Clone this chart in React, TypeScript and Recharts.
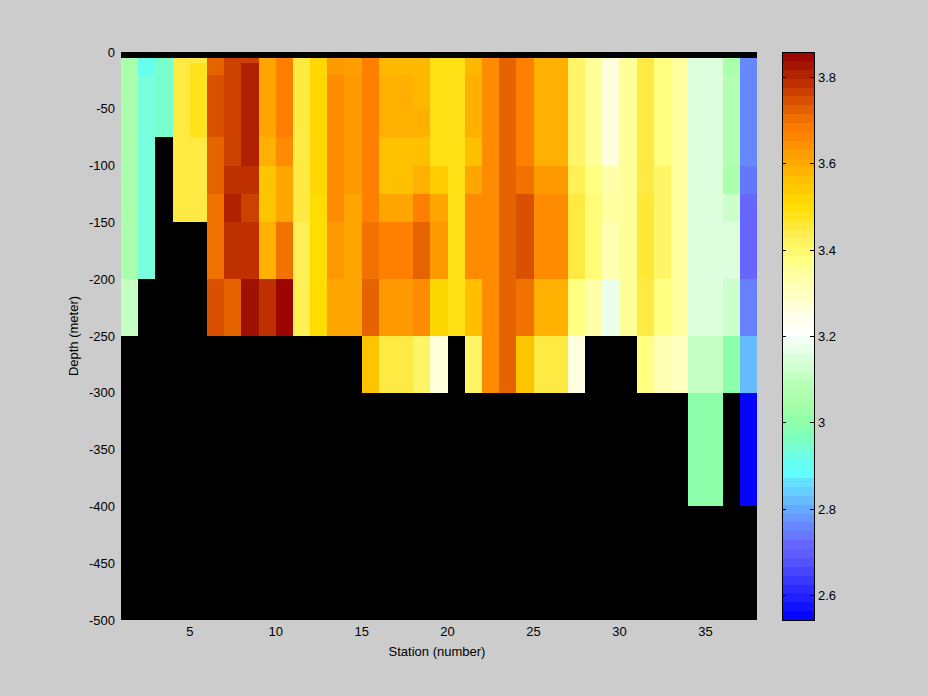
import React from 'react';
import { ComposedChart, XAxis, YAxis, ReferenceArea, Label } from 'recharts';

// Station edges (pcolor cell boundaries)
const stationEdges = [1, 2, 3, 4, 5, 6, 7, 8, 9, 10, 11, 12, 13, 14, 15, 16, 17, 18, 19, 20, 21, 22, 23, 24, 25, 26, 27, 28, 29, 30, 31, 32, 33, 34, 35, 36, 37, 38];
// Depth edges (m)
const depthEdges = [-5, -10, -20, -50, -75, -100, -125, -150, -200, -250, -300, -400, -500];

const xTicks = [5, 10, 15, 20, 25, 30, 35];
const yTicks = [0, -50, -100, -150, -200, -250, -300, -350, -400, -450, -500];
const cbTicks = [2.6, 2.8, 3, 3.2, 3.4, 3.6, 3.8];

const N = null;
// values per depth level, stations 1..37
const d5 = [3.05, 2.91, 2.95, 3.45, 3.45, 3.72, 3.765, 3.765, 3.61, 3.675, 3.45, 3.515, 3.63, 3.62, 3.675, 3.575, 3.575, 3.575, 3.49, 3.49, 3.575, 3.65, 3.72, 3.675, 3.59, 3.59, 3.41, 3.355, 3.265, 3.355, 3.45, 3.38, 3.345, 3.155, 3.155, 3.05, 2.76];
const d10 = [3.05, 2.91, 2.95, 3.45, 3.48, 3.72, 3.765, 3.81, 3.61, 3.675, 3.45, 3.515, 3.63, 3.62, 3.675, 3.575, 3.575, 3.575, 3.49, 3.49, 3.575, 3.65, 3.72, 3.675, 3.59, 3.59, 3.41, 3.355, 3.265, 3.355, 3.45, 3.38, 3.345, 3.155, 3.155, 3.05, 2.76];
const d20 = [3.05, 2.935, 2.95, 3.45, 3.48, 3.745, 3.765, 3.81, 3.61, 3.675, 3.45, 3.515, 3.65, 3.63, 3.675, 3.59, 3.59, 3.575, 3.49, 3.49, 3.59, 3.65, 3.72, 3.675, 3.59, 3.59, 3.41, 3.355, 3.265, 3.355, 3.45, 3.38, 3.345, 3.155, 3.155, 3.08, 2.76];
const d50 = [3.05, 2.935, 2.95, 3.45, 3.48, 3.745, 3.765, 3.81, 3.61, 3.675, 3.45, 3.515, 3.65, 3.63, 3.675, 3.59, 3.59, 3.59, 3.49, 3.49, 3.59, 3.65, 3.72, 3.675, 3.59, 3.59, 3.41, 3.355, 3.265, 3.355, 3.45, 3.38, 3.345, 3.155, 3.155, 3.08, 2.76];
const d75 = [3.05, 2.935, N, 3.45, 3.45, 3.72, 3.765, 3.81, 3.59, 3.65, 3.45, 3.515, 3.65, 3.63, 3.675, 3.56, 3.56, 3.56, 3.49, 3.49, 3.56, 3.65, 3.72, 3.675, 3.59, 3.59, 3.41, 3.355, 3.265, 3.355, 3.45, 3.38, 3.345, 3.155, 3.155, 3.08, 2.76];
const d100 = [3.05, 2.935, N, 3.45, 3.45, 3.72, 3.785, 3.785, 3.55, 3.61, 3.45, 3.515, 3.65, 3.63, 3.675, 3.56, 3.56, 3.59, 3.535, 3.49, 3.61, 3.65, 3.72, 3.70, 3.63, 3.63, 3.43, 3.38, 3.33, 3.355, 3.45, 3.41, 3.345, 3.155, 3.155, 3.05, 2.735];
const d125 = [3.05, 2.935, N, 3.45, 3.45, 3.70, 3.81, 3.765, 3.55, 3.61, 3.45, 3.505, 3.65, 3.61, 3.675, 3.61, 3.61, 3.675, 3.61, 3.49, 3.65, 3.65, 3.72, 3.745, 3.65, 3.65, 3.45, 3.39, 3.345, 3.355, 3.46, 3.41, 3.345, 3.155, 3.155, 3.12, 2.72];
const d150 = [3.05, 2.935, N, N, N, 3.70, 3.785, 3.785, 3.59, 3.70, 3.43, 3.505, 3.63, 3.61, 3.70, 3.675, 3.675, 3.72, 3.63, 3.49, 3.65, 3.65, 3.72, 3.745, 3.65, 3.65, 3.45, 3.39, 3.32, 3.355, 3.46, 3.41, 3.345, 3.155, 3.155, 3.155, 2.72];
const d200 = [3.11, N, N, N, N, 3.745, 3.72, 3.835, 3.785, 3.85, 3.43, 3.505, 3.61, 3.61, 3.72, 3.63, 3.63, 3.65, 3.515, 3.49, 3.56, 3.65, 3.72, 3.70, 3.59, 3.59, 3.38, 3.33, 3.175, 3.355, 3.45, 3.38, 3.345, 3.155, 3.155, 3.12, 2.75];
const d250 = [N, N, N, N, N, N, N, N, N, N, N, N, N, N, 3.55, 3.45, 3.45, 3.41, 3.27, N, 3.41, 3.65, 3.72, 3.55, 3.45, 3.45, 3.26, N, N, N, 3.38, 3.32, 3.30, 3.11, 3.11, 3.00, 2.82];
const d300 = [N, N, N, N, N, N, N, N, N, N, N, N, N, N, N, N, N, N, N, N, N, N, N, N, N, N, N, N, N, N, N, N, N, 3.00, 3.00, N, 2.55];
const d400 = [N, N, N, N, N, N, N, N, N, N, N, N, N, N, N, N, N, N, N, N, N, N, N, N, N, N, N, N, N, N, N, N, N, N, N, N, N];

const levels = [d5, d10, d20, d50, d75, d100, d125, d150, d200, d250, d300, d400];

// colour scale
const vMin = 2.543;
const vMax = 3.859;
const nColors = 64;
const cmapStops = [2.543, 2.6, 2.7, 2.72, 2.735, 2.75, 2.76, 2.8, 2.82, 2.86, 2.88, 2.91, 2.935, 2.95, 3.0, 3.05, 3.08, 3.11, 3.12, 3.155, 3.175, 3.21, 3.26, 3.27, 3.3, 3.32, 3.33, 3.345, 3.355, 3.38, 3.41, 3.43, 3.45, 3.48, 3.49, 3.505, 3.515, 3.535, 3.55, 3.56, 3.575, 3.59, 3.61, 3.62, 3.63, 3.65, 3.675, 3.7, 3.72, 3.745, 3.765, 3.785, 3.81, 3.835, 3.859];
const cmapColors = ['#0000ff', '#2222ff', '#6060ff', '#6666ff', '#6677ff', '#6680ff', '#6688ff', '#66aaff', '#66bbff', '#66ddff', '#5fffff', '#66ffee', '#77ffdd', '#77ffcc', '#8cffaa', '#aaffaa', '#b3ffb3', '#c4ffc4', '#ccffcc', '#ddffdd', '#ebffeb', '#ffffff', '#ffffe0', '#ffffd8', '#ffffc0', '#ffffb3', '#ffffaa', '#ffffa0', '#ffff99', '#ffff80', '#fff566', '#fff055', '#ffea44', '#ffe31a', '#ffe015', '#ffdd00', '#ffd700', '#ffcc00', '#ffc400', '#ffc000', '#ffb800', '#ffb000', '#ffa500', '#ffa000', '#ff9900', '#ff8c00', '#ff8000', '#f27200', '#e66400', '#d95000', '#cc4000', '#bf3000', '#b02000', '#a01000', '#990000'];

function hexToRgb(h: string) {
  return [parseInt(h.slice(1, 3), 16), parseInt(h.slice(3, 5), 16), parseInt(h.slice(5, 7), 16)];
}
function colorFor(v: number) {
  if (v <= cmapStops[0]) return cmapColors[0];
  const last = cmapStops.length - 1;
  if (v >= cmapStops[last]) return cmapColors[last];
  let i = 0;
  while (i < last && cmapStops[i + 1] < v) i++;
  const t = (v - cmapStops[i]) / (cmapStops[i + 1] - cmapStops[i]);
  const a = hexToRgb(cmapColors[i]);
  const b = hexToRgb(cmapColors[i + 1]);
  const c = a.map((x, k) => Math.round(x + (b[k] - x) * t));
  return `rgb(${c[0]},${c[1]},${c[2]})`;
}

const CellShape = (p: any) => (
  <rect x={p.x} y={p.y} width={p.width} height={p.height} fill={p.fill} stroke="none" shapeRendering="crispEdges" />
);

const font = '"Liberation Sans", Arial, Helvetica, sans-serif';
const FS = 13;
const tickStyle = { fontSize: FS, fill: '#000', fontFamily: font };

export default function App() {
  const cells: any[] = [];
  levels.forEach((row, r) => {
    row.forEach((v, c) => {
      if (v === null) return;
      cells.push(
        <ReferenceArea
          key={`c-${r}-${c}`}
          x1={stationEdges[c]}
          x2={stationEdges[c + 1]}
          y1={depthEdges[r]}
          y2={depthEdges[r + 1]}
          fill={colorFor(v as number)}
          fillOpacity={1}
          stroke="none"
          ifOverflow="visible"
          shape={CellShape}
        />
      );
    });
  });

  const step = (vMax - vMin) / nColors;
  const cbCells: any[] = [];
  for (let i = 0; i < nColors; i++) {
    const lo = vMin + i * step;
    cbCells.push(
      <ReferenceArea
        key={`cb-${i}`}
        x1={0}
        x2={1}
        y1={lo}
        y2={lo + step}
        yAxisId="r"
        fill={colorFor(lo + step / 2)}
        fillOpacity={1}
        stroke="none"
        ifOverflow="visible"
        shape={CellShape}
      />
    );
  }

  return (
    <div style={{ position: 'fixed', left: 0, top: 0, width: 928, height: 696, background: '#cccccc', overflow: 'hidden' }}>
      <div style={{ position: 'absolute', left: 0, top: 0 }}>
        <ComposedChart width={928} height={696} margin={{ top: 52, right: 171, bottom: 46, left: 71 }}>
          <XAxis
            type="number"
            dataKey="x"
            domain={[1, 38]}
            ticks={xTicks}
            interval={0}
            height={30}
            axisLine={false}
            tickLine={false}
            tickSize={5}
            tickMargin={2}
            tick={tickStyle}
            allowDataOverflow
          >
            <Label
              content={(p: any) => {
                const vb = p.viewBox || {};
                return (
                  <text x={vb.x + vb.width / 2 - 2} y={656} textAnchor="middle" fontSize={FS} fontFamily={font} fill="#000">
                    Station (number)
                  </text>
                );
              }}
            />
          </XAxis>
          <YAxis
            type="number"
            dataKey="y"
            domain={[-500, 0]}
            ticks={yTicks}
            interval={0}
            width={50}
            axisLine={false}
            tickLine={false}
            tickSize={4}
            tickMargin={2}
            tick={tickStyle}
            allowDataOverflow
          >
            <Label
              content={(p: any) => {
                const vb = p.viewBox || {};
                const cx = 73;
                const cy = vb.y + vb.height / 2;
                return (
                  <text
                    x={cx}
                    y={cy}
                    transform={`rotate(-90 ${cx} ${cy})`}
                    textAnchor="middle"
                    dominantBaseline="central"
                    fontSize={FS}
                    fontFamily={font}
                    fill="#000"
                  >
                    Depth (meter)
                  </text>
                );
              }}
            />
          </YAxis>
          <ReferenceArea x1={1} x2={38} y1={-500} y2={0} fill="#000" fillOpacity={1} stroke="none" ifOverflow="visible" shape={CellShape} />
          {cells}
        </ComposedChart>
      </div>
      <div style={{ position: 'absolute', left: 770, top: 0 }}>
        <ComposedChart width={100} height={696} margin={{ top: 52, right: 16, bottom: 76, left: 12 }}>
          <XAxis type="number" dataKey="x" domain={[0, 1]} hide allowDataOverflow />
          <YAxis
            yAxisId="r"
            orientation="right"
            type="number"
            dataKey="v"
            domain={[vMin, vMax]}
            ticks={cbTicks}
            interval={0}
            width={40}
            axisLine={false}
            tickLine={false}
            tickSize={0}
            tickMargin={4}
            tick={tickStyle}
            allowDataOverflow
          />
          {cbCells}
          {cbTicks.map((t) => (
            <ReferenceArea
              key={`tl-${t}`}
              yAxisId="r"
              x1={0}
              x2={1}
              y1={t}
              y2={t}
              ifOverflow="visible"
              shape={(p: any) => (
                <g>
                  <line x1={p.x} x2={p.x + 4} y1={p.y} y2={p.y} stroke="#000" strokeWidth={1} shapeRendering="crispEdges" />
                  <line x1={p.x + p.width - 4} x2={p.x + p.width} y1={p.y} y2={p.y} stroke="#000" strokeWidth={1} shapeRendering="crispEdges" />
                </g>
              )}
            />
          ))}
          <ReferenceArea
            yAxisId="r"
            x1={0}
            x2={1}
            y1={vMin}
            y2={vMax}
            ifOverflow="visible"
            shape={(p: any) => (
              <rect x={p.x} y={p.y} width={p.width} height={p.height} fill="none" stroke="#000" strokeWidth={1} shapeRendering="crispEdges" />
            )}
          />
        </ComposedChart>
      </div>
    </div>
  );
}
